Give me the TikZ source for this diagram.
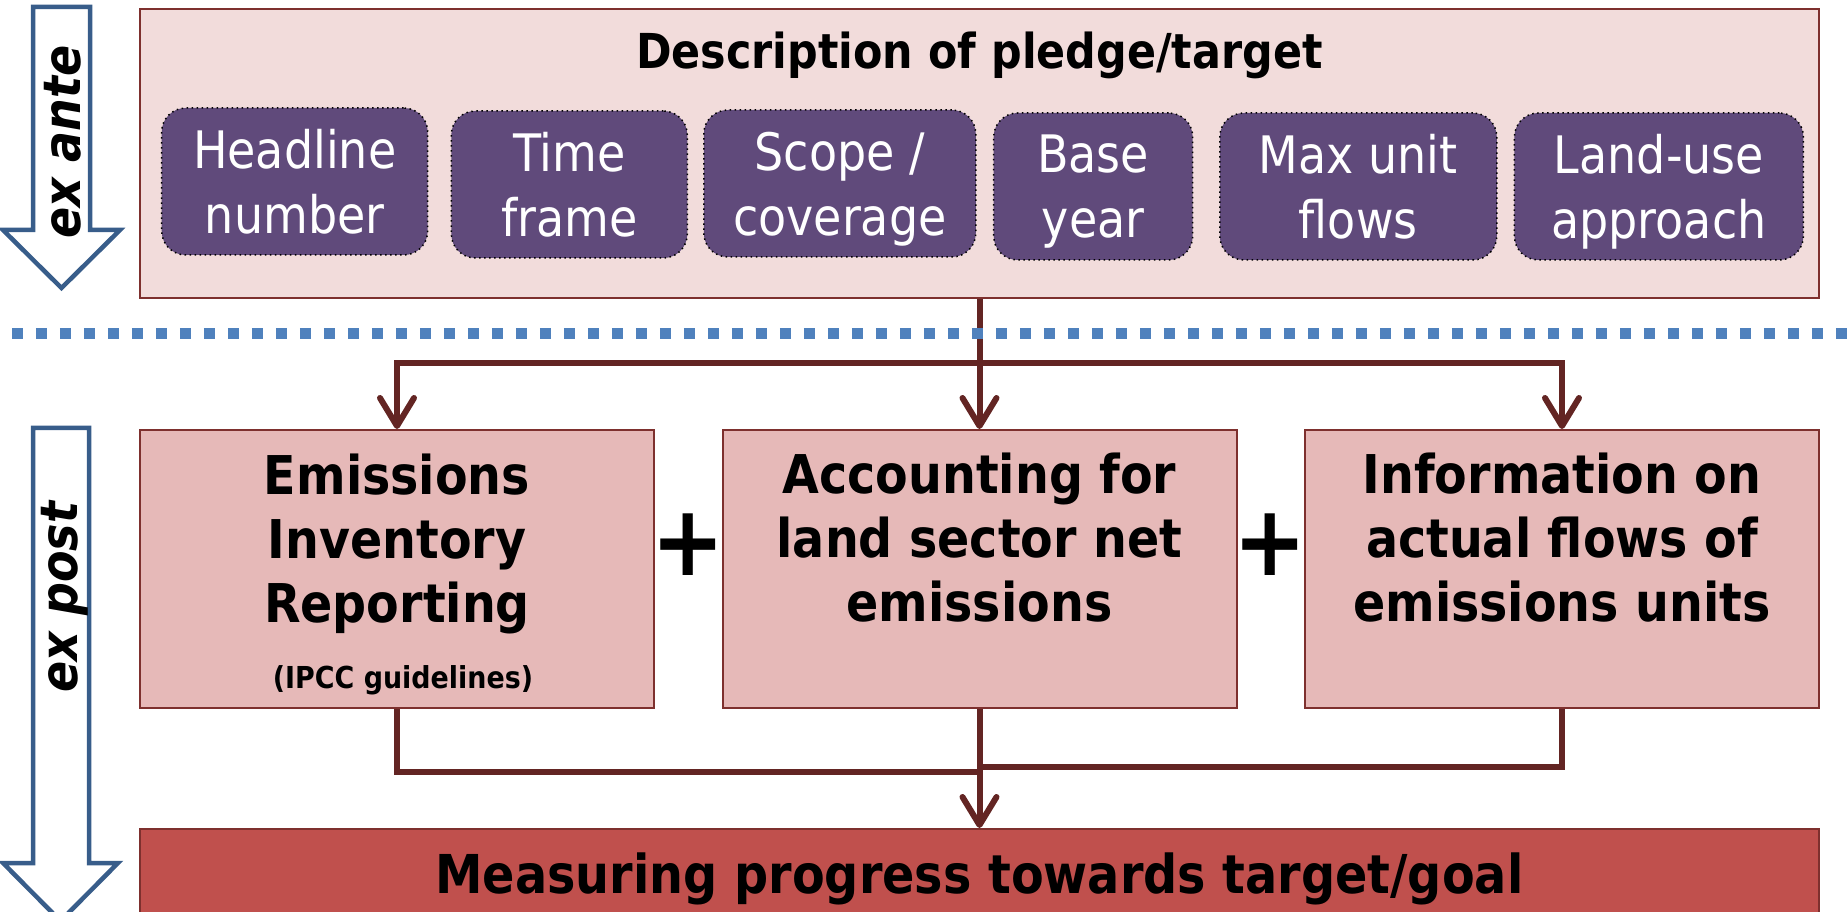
\documentclass[tikz,border=0pt]{standalone}
\usepackage{fontspec}
\setmainfont{DejaVu Sans}[FakeStretch=0.89]
\usetikzlibrary{arrows.meta,positioning,calc}

\definecolor{pledgebg}{HTML}{F2DCDB}
\definecolor{partbg}{HTML}{E6B9B8}
\definecolor{goalbg}{HTML}{C0504D}
\definecolor{elemfill}{HTML}{604A7B}
\definecolor{boxline}{HTML}{7E302E}
\definecolor{flowline}{HTML}{632523}
\definecolor{sepblue}{HTML}{4F81BD}
\definecolor{phaseblue}{HTML}{385D8A}

\tikzset{
  >=Stealth,
  frame/.style={rectangle, draw=boxline, line width=0.2mm, inner sep=0pt},
  elem/.style={rectangle, rounded corners=2.4mm, draw=black, densely dotted, line width=0.15mm,
    fill=elemfill, text=white, align=center, inner sep=0pt, minimum height=14.7mm,
    text depth=-0.35mm, font=\fontsize{14.7}{18.5}\selectfont},
  part/.style={frame, fill=partbg, minimum width=51.4mm, minimum height=27.8mm},
  parttxt/.style={align=center, font=\bfseries\fontsize{15.2}{18.3}\selectfont},
  plus/.style={font=\bfseries\fontsize{28}{28}\selectfont},
  flow/.style={draw=flowline, line width=0.6mm},
  tr/.style={flow, -{Straight Barb[length=2.8mm, width=3.4mm, line cap=round, line join=round]}},
  phase/.style={draw=phaseblue, line width=0.45mm, fill=white},
  phasetxt/.style={rotate=90, font=\bfseries\itshape\fontsize{14.7}{16}\selectfont},
  sep/.style={draw=sepblue, line width=1.1mm, dash pattern=on 1.1mm off 1.3mm}
}

\begin{document}
\begin{tikzpicture}[x=0.1mm, y=-0.1mm]
    \useasboundingbox (0,0) rectangle (1848,912);
    \clip (0,0) rectangle (1848,912);

    % Phase arrows on the left
    \draw[phase] (33,7) -- (90,7) -- (90,230) -- (120,230) -- (61.5,288) -- (3,230) -- (33,230) -- cycle;
    \node[phasetxt] (exante) at (63,142) {ex ante};
    \draw[phase] (33,428) -- (89,428) -- (89,863) -- (118,863) -- (60.5,921) -- (3,863) -- (33,863) -- cycle;
    \node[phasetxt] (expost) at (65,597) {ex post};

    % Pledge description and its elements
    \node[frame, fill=pledgebg, minimum width=167.9mm, minimum height=28.9mm] (pledge) at (979.5,153.5) {};
    \node[font=\bfseries\fontsize{13.7}{15}\selectfont] (title) at (979.5,55) {Description of pledge/target};
    \node[elem, minimum width=26.6mm] (headline) at (294.7,181.5) {Headline\\number};
    \node[elem, minimum width=23.6mm] (timeframe) at (569.3,184.5) {Time\\frame};
    \node[elem, minimum width=27.2mm] (scope) at (839.8,183.5) {Scope /\\coverage};
    \node[elem, minimum width=19.9mm] (baseyear) at (1093.2,186.5) {Base\\year};
    \node[elem, minimum width=27.7mm] (maxflows) at (1358.3,186.5) {Max unit\\flows};
    \node[elem, minimum width=28.9mm] (landuse) at (1658.9,186.5) {Land-use\\approach};

    % Ex post components
    \node[part] (inventory) at (397,569) {};
    \node[part] (landsector) at (979.5,569) {};
    \node[part] (unitflows) at (1562,569) {};
    \node[parttxt] (inventorytxt) at ([yshift=2.5mm]inventory.center) {Emissions\\Inventory\\Reporting};
    \node[font=\bfseries\fontsize{8.6}{10}\selectfont] (ipcc) at ([xshift=0.6mm,yshift=-11.1mm]inventory.center) {(IPCC guidelines)};
    \node[parttxt] (landsectortxt) at ([yshift=3.15mm]landsector.center) {Accounting for\\land sector net\\emissions};
    \node[parttxt] (unitflowstxt) at ([yshift=3.15mm]unitflows.center) {Information on\\actual flows of\\emissions units};
    \node[plus] (plusA) at (688,545) {+};
    \node[plus] (plusB) at (1270,545) {+};

    % Result
    \node[frame, fill=goalbg, minimum width=167.9mm, minimum height=9.9mm,
      font=\bfseries\fontsize{15.25}{18}\selectfont] (goal) at (979.5,878.5) {Measuring progress towards target/goal};

    % Connectors
    \coordinate (fork) at (979.5,363);
    \coordinate (mergeL) at (979.5,772);
    \coordinate (mergeR) at (979.5,767);
    \draw[tr] (pledge.south) -- (landsector.north);
    \draw[tr] (fork) -| (inventory.north);
    \draw[tr] (fork) -| (unitflows.north);
    \draw[flow] (inventory.south) |- (mergeL);
    \draw[flow] (unitflows.south) |- (mergeR);
    \draw[tr] (landsector.south) -- (goal.north);

    % Divider between ex ante and ex post
    \draw[sep] (12,333.5) -- (1848,333.5);
\end{tikzpicture}
\end{document}
